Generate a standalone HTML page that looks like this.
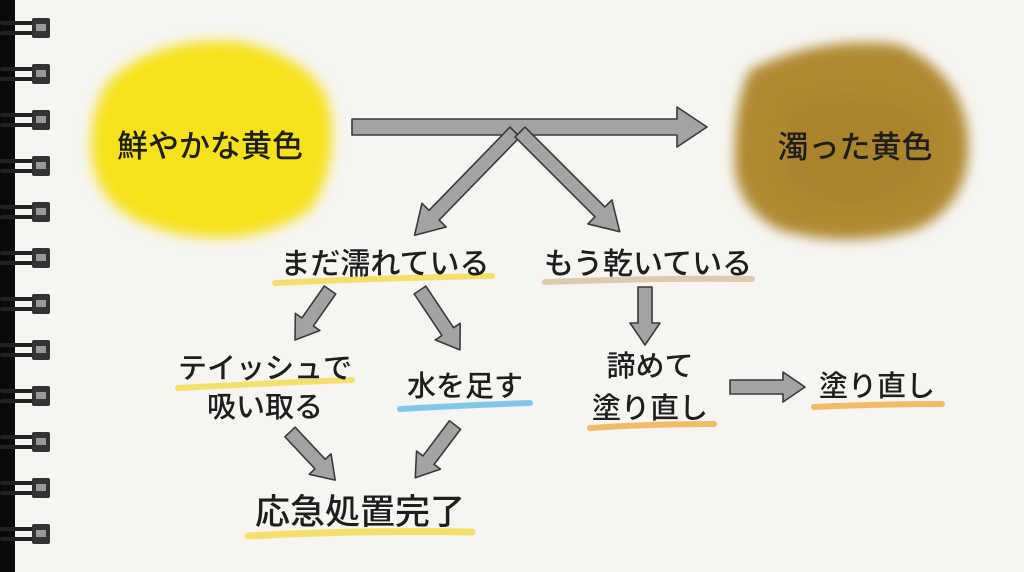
<!DOCTYPE html>
<html><head><meta charset="utf-8"><style>
html,body{margin:0;padding:0;background:#f6f5f1;}
svg{display:block}
text{font-family:"Liberation Sans","Noto Sans CJK JP",sans-serif;font-weight:500;fill:#1e1e1e;text-anchor:middle}
</style></head><body>
<svg width="1024" height="572" viewBox="0 0 1024 572" xmlns="http://www.w3.org/2000/svg">
<defs>
<filter id="blur" x="-20%" y="-20%" width="140%" height="140%"><feGaussianBlur stdDeviation="6"/></filter>
<g id="ring">
<rect x="0" y="-7" width="50" height="4" rx="2" fill="#222"/>
<rect x="0" y="3" width="50" height="4" rx="2" fill="#222"/>
<rect x="32" y="-10" width="18" height="20" rx="2" fill="#333"/>
<rect x="36" y="-4" width="10" height="7" fill="#999"/>
</g>
</defs>
<rect width="1024" height="572" fill="#f6f5f1"/>
<rect x="0" y="0" width="15" height="572" fill="#0a0a0a"/>
<g>
<use href="#ring" y="28"/><use href="#ring" y="74"/><use href="#ring" y="120"/><use href="#ring" y="166"/>
<use href="#ring" y="212"/><use href="#ring" y="258"/><use href="#ring" y="304"/><use href="#ring" y="350"/>
<use href="#ring" y="396"/><use href="#ring" y="442"/><use href="#ring" y="488"/><use href="#ring" y="534"/>
</g>
<!-- blobs -->
<path d="M110 80 Q160 35 240 42 Q320 60 330 110 Q338 170 310 210 Q250 250 170 232 Q100 215 92 160 Q88 110 110 80Z" fill="#f6e21c" filter="url(#blur)"/>
<path d="M750 70 Q820 35 900 45 Q965 75 968 140 Q972 200 920 228 Q850 250 780 230 Q730 205 735 150 Q735 100 750 70Z" fill="#b08a32" filter="url(#blur)"/>
<path d="M790 110 Q860 80 930 120 Q940 180 880 200 Q800 210 785 170Z" fill="#a57e2a" opacity="0.5" filter="url(#blur)"/>
<!-- underlines -->
<g stroke-linecap="round" fill="none" opacity="0.85">
<path d="M275 283 Q380 278 492 276" stroke="#f3dd55" stroke-width="6"/>
<path d="M545 282 Q650 278 752 279" stroke="#d8c2a4" stroke-width="6"/>
<path d="M178 388 Q270 383 352 380" stroke="#f3dd55" stroke-width="6"/>
<path d="M400 409 Q470 405 530 403" stroke="#6cc0e6" stroke-width="6"/>
<path d="M590 428 Q650 424 714 424" stroke="#f0b050" stroke-width="6"/>
<path d="M814 407 Q880 404 942 404" stroke="#f0b050" stroke-width="6"/>
<path d="M248 536 Q360 530 472 532" stroke="#f3dd55" stroke-width="7"/>
</g>
<!-- arrows -->
<g fill="#a3a3a3" stroke="#3a3a3a" stroke-width="1.6" stroke-linejoin="round">
<polygon transform="translate(352,127)" points="0,-8 325,-8 325,-20 355,0 325,20 325,8 0,8"/>
<polygon transform="translate(515,132) rotate(134.2)" points="0,-7 116,-7 116,-17 144,0 116,17 116,7 0,7"/>
<polygon transform="translate(520,132) rotate(45)" points="0,-7 113,-7 113,-17 141,0 113,17 113,7 0,7"/>
<polygon transform="translate(330,290) rotate(125)" points="0,-7 39,-7 39,-15 61,0 39,15 39,7 0,7"/>
<polygon transform="translate(420,290) rotate(56.3)" points="0,-7 50,-7 50,-15 72,0 50,15 50,7 0,7"/>
<polygon transform="translate(645,287) rotate(90)" points="0,-7 36,-7 36,-15 58,0 36,15 36,7 0,7"/>
<polygon transform="translate(290,432) rotate(46.8)" points="0,-7 44,-7 44,-15 66,0 44,15 44,7 0,7"/>
<polygon transform="translate(455,425) rotate(127)" points="0,-7 44,-7 44,-15 66,0 44,15 44,7 0,7"/>
<polygon transform="translate(730,387)" points="0,-7 53,-7 53,-15 75,0 53,15 53,7 0,7"/>
</g>
<!-- labels -->
<text x="210" y="157" font-size="31">鮮やかな黄色</text>
<text x="855" y="158" font-size="31">濁った黄色</text>
<text x="385" y="274" font-size="30">まだ濡れている</text>
<text x="648" y="274" font-size="30">もう乾いている</text>
<text x="265" y="378" font-size="29">テイッシュで</text>
<text x="265" y="417" font-size="29">吸い取る</text>
<text x="465" y="396" font-size="29">水を足す</text>
<text x="650" y="376" font-size="29">諦めて</text>
<text x="650" y="418" font-size="29">塗り直し</text>
<text x="877" y="396" font-size="29">塗り直し</text>
<text x="360" y="524" font-size="35">応急処置完了</text>
</svg>
</body></html>
